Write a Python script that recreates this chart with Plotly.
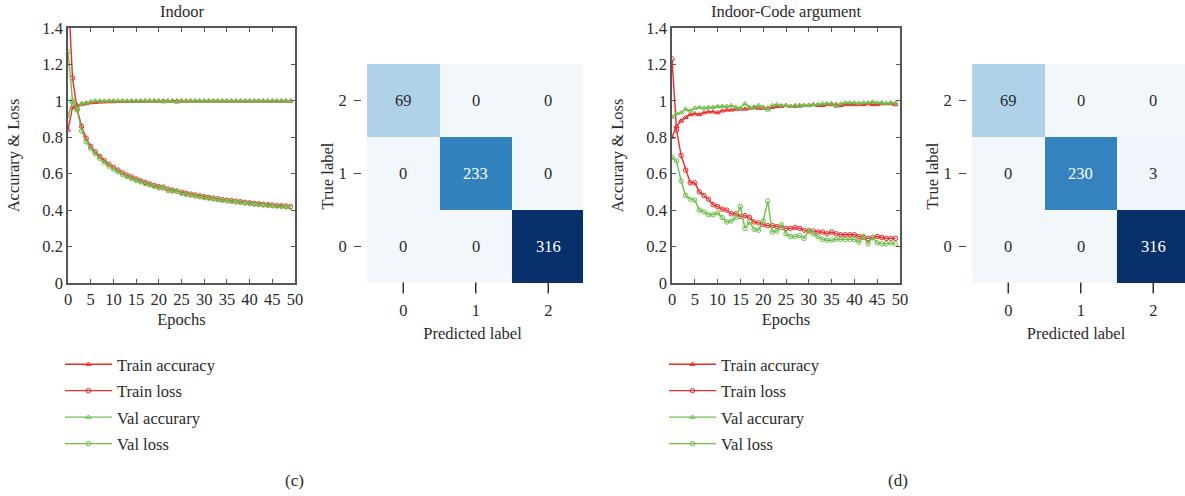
import plotly.graph_objects as go

# ---- training curves: Indoor ----
epochs = list(range(50))

indoor_train_acc = [0.84, 0.965, 0.975, 0.98, 0.985, 0.99, 0.992, 0.994, 0.995, 0.996,
                    0.996, 0.997, 0.997, 0.998, 0.998, 0.998, 0.998, 0.999, 0.999, 0.999,
                    0.999, 1.0, 0.999, 0.999, 1.0, 0.999, 0.999, 0.999, 0.999, 0.999,
                    0.999, 0.999, 0.999, 0.999, 0.999, 0.999, 0.999, 0.999, 0.999, 0.999,
                    0.999, 0.999, 0.999, 0.999, 0.999, 0.999, 0.999, 0.999, 0.999, 0.999]
indoor_train_loss = [1.62, 1.125, 0.955, 0.86, 0.795, 0.75, 0.72, 0.695, 0.672, 0.652,
                     0.635, 0.62, 0.605, 0.592, 0.582, 0.571, 0.561, 0.552, 0.544, 0.536,
                     0.529, 0.522, 0.516, 0.51, 0.504, 0.498, 0.493, 0.488, 0.483, 0.478,
                     0.474, 0.47, 0.466, 0.462, 0.458, 0.455, 0.452, 0.449, 0.446, 0.443,
                     0.44, 0.437, 0.435, 0.432, 0.43, 0.428, 0.426, 0.424, 0.422, 0.42]
indoor_val_acc = [0.915, 0.995, 0.96, 0.985, 0.99, 0.995, 1.0, 1.0, 1.0, 1.0,
                  1.0, 1.0, 1.0, 1.0, 1.0, 1.0, 1.0, 1.0, 1.0, 1.0,
                  1.0, 0.995, 1.0, 1.0, 0.993, 1.0, 1.0, 1.0, 1.0, 1.0,
                  1.0, 1.0, 1.0, 1.0, 1.0, 1.0, 1.0, 1.0, 1.0, 1.0,
                  1.0, 1.0, 1.0, 1.0, 1.0, 1.0, 1.0, 1.0, 1.0, 1.0]
indoor_val_loss = [1.27, 1.0, 0.95, 0.835, 0.775, 0.74, 0.71, 0.685, 0.662, 0.642,
                   0.625, 0.61, 0.596, 0.584, 0.574, 0.564, 0.555, 0.546, 0.538, 0.531,
                   0.522, 0.528, 0.508, 0.504, 0.505, 0.492, 0.487, 0.482, 0.477, 0.473,
                   0.469, 0.465, 0.461, 0.457, 0.454, 0.451, 0.448, 0.445, 0.442, 0.439,
                   0.436, 0.433, 0.431, 0.428, 0.426, 0.424, 0.422, 0.42, 0.418, 0.416]

# ---- training curves: Indoor-Code argument ----
aug_train_acc = [0.80, 0.86, 0.89, 0.91, 0.925, 0.93, 0.925, 0.935, 0.94, 0.94,
                 0.935, 0.945, 0.95, 0.95, 0.955, 0.955, 0.955, 0.96, 0.965, 0.96,
                 0.96, 0.96, 0.965, 0.97, 0.97, 0.975, 0.97, 0.97, 0.975, 0.975,
                 0.975, 0.98, 0.975, 0.975, 0.98, 0.98, 0.98, 0.975, 0.98, 0.98,
                 0.98, 0.98, 0.98, 0.985, 0.98, 0.98, 0.985, 0.985, 0.985, 0.98]
aug_train_loss = [1.23, 0.84, 0.70, 0.62, 0.55, 0.55, 0.50, 0.48, 0.46, 0.43,
                  0.42, 0.405, 0.40, 0.38, 0.38, 0.365, 0.37, 0.36, 0.335, 0.33,
                  0.32, 0.315, 0.315, 0.31, 0.305, 0.30, 0.30, 0.305, 0.30, 0.29,
                  0.285, 0.285, 0.28, 0.28, 0.27, 0.28, 0.27, 0.265, 0.265, 0.265,
                  0.265, 0.255, 0.25, 0.245, 0.25, 0.255, 0.25, 0.245, 0.245, 0.245]
aug_val_acc = [0.91, 0.93, 0.935, 0.955, 0.945, 0.96, 0.965, 0.96, 0.965, 0.965,
               0.97, 0.97, 0.97, 0.975, 0.965, 0.96, 0.985, 0.965, 0.96, 0.975,
               0.965, 0.95, 0.975, 0.98, 0.975, 0.975, 0.97, 0.975, 0.97, 0.975,
               0.975, 0.98, 0.98, 0.985, 0.985, 0.985, 0.97, 0.985, 0.99, 0.99,
               0.99, 0.985, 0.99, 0.99, 0.995, 0.99, 0.99, 0.985, 0.99, 0.99]
aug_val_loss = [0.69, 0.67, 0.56, 0.48, 0.46, 0.455, 0.40, 0.39, 0.375, 0.375,
                0.385, 0.36, 0.335, 0.34, 0.36, 0.42, 0.30, 0.335, 0.295, 0.29,
                0.34, 0.45, 0.28, 0.285, 0.32, 0.27, 0.255, 0.255, 0.26, 0.245,
                0.29, 0.27, 0.255, 0.24, 0.235, 0.235, 0.24, 0.24, 0.24, 0.24,
                0.24, 0.225, 0.255, 0.215, 0.25, 0.22, 0.215, 0.215, 0.22, 0.215]

# ---- confusion matrices (rows: true label 0,1,2; cols: predicted 0,1,2) ----
class_labels = [0, 1, 2]
cm_indoor = [[0, 0, 316],
             [0, 233, 0],
             [69, 0, 0]]
cm_aug = [[0, 0, 316],
          [0, 230, 3],
          [69, 0, 0]]

series_names = ["Train accuracy", "Train loss", "Val accurary", "Val loss"]
titles = ["Indoor", "Indoor-Code argument"]
captions = ["(c)", "(d)"]

W, H = 1185, 496
FONT = "Liberation Serif"
TXT = "#2a2a2a"
RED = "#ee2a2a"
GREEN = "#6cc04a"
FS = 16.5


def px_x(p):
    return p / W


def px_y(p):
    return 1 - p / H


def tfont(size=FS):
    return dict(family=FONT, size=size, color=TXT)


fig = go.Figure()

line_sets = [
    (indoor_train_acc, indoor_train_loss, indoor_val_acc, indoor_val_loss),
    (aug_train_acc, aug_train_loss, aug_val_acc, aug_val_loss),
]
styles = [(RED, "triangle-up-open"), (RED, "circle-open"),
          (GREEN, "triangle-up-open"), (GREEN, "circle-open")]

for k, series in enumerate(line_sets):
    xa = "x" if k == 0 else "x3"
    ya = "y" if k == 0 else "y3"
    leg = "legend" if k == 0 else "legend2"
    for i, (vals, (col, sym)) in enumerate(zip(series, styles)):
        fig.add_trace(go.Scatter(
            x=epochs, y=vals, mode="lines+markers", name=series_names[i],
            line=dict(color=col, width=1.4),
            marker=dict(symbol=sym, size=4.5, color=col, line=dict(width=1, color=col)),
            xaxis=xa, yaxis=ya, legend=leg, legendgroup=f"{k}{i}",
        ))

# layout geometry (pixels)
line_x = [(68, 295), (672, 900)]
heat_x = [(362, 583), (967, W)]
plot_top, plot_bot = 28, 283
heat_top, heat_bot = 64, 288
cell = 72.5
gap_units = 5 / cell
heat_lo = -0.5 - gap_units

# confusion matrix colour ramp anchored at the cell counts
zmax = 316
blues = [[0.0, "#f2f7fc"], [69 / zmax, "#b0d2e8"], [233 / zmax, "#3282be"], [1.0, "#08306b"]]

for k, cm in enumerate([cm_indoor, cm_aug]):
    xa = "x2" if k == 0 else "x4"
    ya = "y2" if k == 0 else "y4"
    fig.add_trace(go.Heatmap(
        x=class_labels, y=class_labels, z=cm, zmin=0, zmax=zmax,
        colorscale=blues, showscale=False, hoverinfo="z",
        xaxis=xa, yaxis=ya,
    ))
    # short vertical tick marks under each predicted-label column
    fig.add_trace(go.Scatter(
        x=class_labels, y=[heat_lo] * len(class_labels), mode="markers",
        marker=dict(symbol="line-ns", size=8, line=dict(width=1.5, color="#333333")),
        cliponaxis=False, showlegend=False, hoverinfo="skip",
        xaxis=xa, yaxis=ya,
    ))
    for r, row in enumerate(cm):
        for c, v in enumerate(row):
            fig.add_annotation(
                x=class_labels[c], y=class_labels[r], xref=xa, yref=ya,
                text=str(v), showarrow=False,
                font=dict(family=FONT, size=FS, color="white" if v > zmax / 2 else TXT),
            )

axis_common = dict(
    showline=True, linecolor="#555555", linewidth=1.5, mirror="ticks",
    ticks="inside", ticklen=4, tickcolor="#555555", showgrid=False, zeroline=False,
    tickfont=tfont(), automargin=False,
)

layout = dict(
    width=W, height=H, margin=dict(l=0, r=0, t=0, b=0, autoexpand=False),
    paper_bgcolor="white", plot_bgcolor="white",
    font=dict(family=FONT, color=TXT, size=FS),
)

for k in range(2):
    xs = "xaxis" if k == 0 else "xaxis3"
    ys = "yaxis" if k == 0 else "yaxis3"
    anchor_x = "y" if k == 0 else "y3"
    anchor_y = "x" if k == 0 else "x3"
    layout[xs] = dict(axis_common, domain=[px_x(line_x[k][0]), px_x(line_x[k][1])],
                      range=[0, 50], tickvals=list(range(0, 51, 5)), anchor=anchor_x,
                      title=dict(text="Epochs", font=tfont(), standoff=6))
    layout[ys] = dict(axis_common, domain=[px_y(plot_bot), px_y(plot_top)],
                      range=[0, 1.4], tickvals=[0, 0.2, 0.4, 0.6, 0.8, 1.0, 1.2, 1.4],
                      ticktext=["0", "0.2", "0.4", "0.6", "0.8", "1", "1.2", "1.4"],
                      anchor=anchor_y,
                      title=dict(text="Accurary & Loss", font=tfont(), standoff=19))

    hx = "xaxis2" if k == 0 else "xaxis4"
    hy = "yaxis2" if k == 0 else "yaxis4"
    x0, x1 = heat_x[k]
    xr_hi = heat_lo + (x1 - x0) / cell
    heat_axis = dict(showline=False, showgrid=False, zeroline=False, tickfont=tfont(),
                     automargin=False, tickvals=class_labels)
    layout[hx] = dict(heat_axis, domain=[px_x(x0), px_x(x1)], range=[heat_lo, xr_hi],
                      anchor="y2" if k == 0 else "y4", ticks="", ticklabelstandoff=10,
                      title=dict(text="Predicted label", font=tfont(), standoff=8))
    layout[hy] = dict(heat_axis, domain=[px_y(heat_bot), px_y(heat_top)],
                      range=[heat_lo, 2.5], ticks="outside", ticklen=7, tickwidth=1.3,
                      tickcolor="#444444",
                      anchor="x2" if k == 0 else "x4", ticklabelstandoff=4,
                      title=dict(text="True label", font=tfont(), standoff=0))

legend_common = dict(
    xanchor="left", yanchor="top", bgcolor="rgba(0,0,0,0)",
    font=tfont(), tracegroupgap=2, traceorder="grouped", itemwidth=47,
)
layout["legend"] = dict(legend_common, x=px_x(60), y=px_y(347))
layout["legend2"] = dict(legend_common, x=px_x(664), y=px_y(347))

fig.update_layout(**layout)

for k in range(2):
    cx = (line_x[k][0] + line_x[k][1]) / 2
    fig.add_annotation(x=px_x(cx), y=px_y(12), xref="paper", yref="paper",
                       xanchor="center", yanchor="middle",
                       text=titles[k], showarrow=False, font=tfont())
cap_x = [294, 898]
for k in range(2):
    fig.add_annotation(x=px_x(cap_x[k]), y=px_y(480), xref="paper", yref="paper",
                       xanchor="center", yanchor="middle",
                       text=captions[k], showarrow=False, font=tfont(17))

fig.write_html("out.html")
